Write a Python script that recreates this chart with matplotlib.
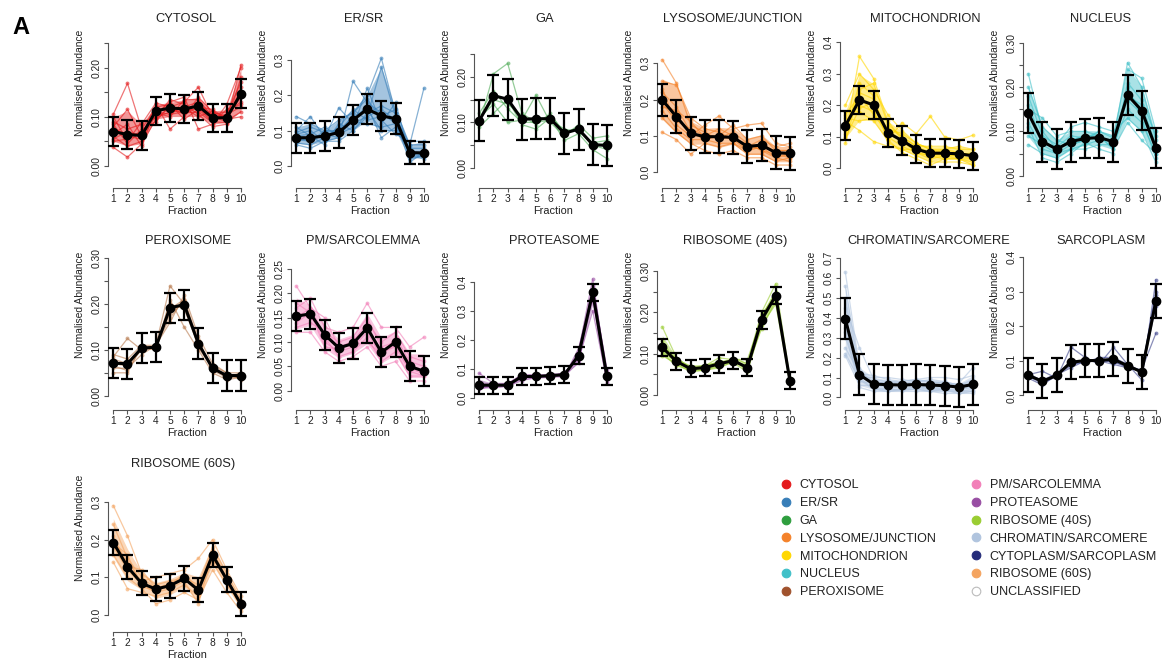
import matplotlib
matplotlib.use("Agg")
import matplotlib.pyplot as plt
from matplotlib.lines import Line2D
import numpy as np

plt.rcParams['font.family'] = ['Liberation Sans', 'DejaVu Sans']

fractions = list(range(1, 11))

# mean profile and SD per compartment, plus individual protein profiles
cytosol_mean = [0.070, 0.064, 0.062, 0.112, 0.118, 0.116, 0.122, 0.098, 0.098, 0.147]
cytosol_sd = [0.030, 0.030, 0.029, 0.029, 0.029, 0.029, 0.029, 0.029, 0.029, 0.029]
cytosol_profiles = [
    [0.105, 0.168, 0.075, 0.118, 0.110, 0.112, 0.118, 0.092, 0.105, 0.120],
    [0.038, 0.018, 0.045, 0.095, 0.120, 0.130, 0.160, 0.100, 0.090, 0.205],
    [0.080, 0.115, 0.060, 0.125, 0.075, 0.100, 0.140, 0.110, 0.100, 0.140],
    [0.060, 0.040, 0.050, 0.105, 0.130, 0.140, 0.075, 0.085, 0.125, 0.200],
    [0.090, 0.075, 0.085, 0.128, 0.120, 0.105, 0.120, 0.115, 0.095, 0.100],
    [0.050, 0.055, 0.070, 0.100, 0.135, 0.125, 0.105, 0.080, 0.085, 0.180],
    [0.070, 0.060, 0.055, 0.115, 0.115, 0.120, 0.130, 0.095, 0.100, 0.150],
    [0.075, 0.065, 0.065, 0.110, 0.105, 0.110, 0.125, 0.105, 0.110, 0.130],
    [0.065, 0.085, 0.040, 0.120, 0.125, 0.095, 0.115, 0.090, 0.088, 0.160],
    [0.100, 0.050, 0.090, 0.098, 0.110, 0.118, 0.100, 0.112, 0.092, 0.110],
    [0.055, 0.070, 0.060, 0.108, 0.100, 0.135, 0.135, 0.100, 0.105, 0.170],
    [0.085, 0.045, 0.075, 0.090, 0.125, 0.108, 0.110, 0.088, 0.115, 0.125],
]

ersr_mean = [0.080, 0.080, 0.085, 0.095, 0.130, 0.161, 0.142, 0.134, 0.038, 0.037]
ersr_sd = [0.043, 0.043, 0.043, 0.043, 0.043, 0.043, 0.043, 0.043, 0.033, 0.032]
ersr_profiles = [
    [0.140, 0.120, 0.100, 0.130, 0.150, 0.200, 0.305, 0.150, 0.030, 0.020],
    [0.060, 0.050, 0.070, 0.080, 0.240, 0.180, 0.150, 0.120, 0.040, 0.030],
    [0.100, 0.140, 0.080, 0.165, 0.120, 0.140, 0.280, 0.140, 0.060, 0.220],
    [0.070, 0.080, 0.090, 0.090, 0.110, 0.220, 0.120, 0.180, 0.030, 0.040],
    [0.080, 0.070, 0.100, 0.100, 0.140, 0.160, 0.100, 0.100, 0.050, 0.050],
    [0.090, 0.100, 0.070, 0.070, 0.100, 0.150, 0.170, 0.150, 0.020, 0.030],
    [0.065, 0.060, 0.080, 0.110, 0.160, 0.130, 0.140, 0.160, 0.060, 0.060],
    [0.085, 0.090, 0.110, 0.085, 0.130, 0.170, 0.080, 0.110, 0.040, 0.030],
    [0.110, 0.085, 0.060, 0.120, 0.100, 0.140, 0.160, 0.130, 0.010, 0.040],
    [0.075, 0.070, 0.090, 0.080, 0.150, 0.190, 0.130, 0.090, 0.070, 0.070],
    [0.095, 0.110, 0.095, 0.100, 0.125, 0.120, 0.110, 0.120, 0.035, 0.025],
]

ga_mean = [0.104, 0.159, 0.151, 0.107, 0.108, 0.108, 0.076, 0.085, 0.051, 0.049]
ga_sd = [0.045] * 10
ga_profiles = [
    [0.095, 0.207, 0.230, 0.120, 0.100, 0.115, 0.080, 0.085, 0.050, 0.040],
    [0.110, 0.140, 0.100, 0.105, 0.160, 0.100, 0.070, 0.095, 0.065, 0.070],
    [0.090, 0.120, 0.150, 0.095, 0.085, 0.110, 0.060, 0.075, 0.040, 0.020],
    [0.120, 0.170, 0.130, 0.100, 0.100, 0.105, 0.085, 0.080, 0.055, 0.060],
    [0.105, 0.150, 0.140, 0.115, 0.095, 0.120, 0.075, 0.090, 0.045, 0.055],
]

lyso_mean = [0.199, 0.153, 0.107, 0.098, 0.098, 0.096, 0.071, 0.075, 0.054, 0.052]
lyso_sd = [0.045] * 10
lyso_profiles = [
    [0.310, 0.245, 0.130, 0.110, 0.090, 0.100, 0.060, 0.070, 0.040, 0.030],
    [0.250, 0.240, 0.150, 0.120, 0.110, 0.090, 0.080, 0.060, 0.050, 0.040],
    [0.110, 0.090, 0.050, 0.080, 0.070, 0.080, 0.050, 0.050, 0.030, 0.040],
    [0.200, 0.160, 0.100, 0.130, 0.155, 0.120, 0.130, 0.135, 0.080, 0.070],
    [0.170, 0.120, 0.090, 0.090, 0.100, 0.130, 0.090, 0.100, 0.060, 0.060],
    [0.220, 0.180, 0.110, 0.090, 0.080, 0.080, 0.060, 0.070, 0.060, 0.060],
    [0.150, 0.110, 0.080, 0.060, 0.050, 0.060, 0.040, 0.040, 0.020, 0.020],
    [0.190, 0.140, 0.120, 0.100, 0.120, 0.100, 0.070, 0.090, 0.070, 0.080],
    [0.230, 0.130, 0.100, 0.105, 0.095, 0.110, 0.080, 0.060, 0.040, 0.050],
    [0.180, 0.170, 0.140, 0.095, 0.100, 0.090, 0.060, 0.080, 0.055, 0.045],
]

mito_mean = [0.135, 0.217, 0.201, 0.113, 0.088, 0.061, 0.048, 0.048, 0.046, 0.040]
mito_sd = [0.046, 0.045, 0.045, 0.045, 0.045, 0.045, 0.045, 0.045, 0.045, 0.045]
mito_profiles = [
    [0.100, 0.355, 0.285, 0.150, 0.090, 0.050, 0.040, 0.030, 0.030, 0.020],
    [0.200, 0.300, 0.250, 0.170, 0.120, 0.080, 0.060, 0.050, 0.050, 0.040],
    [0.150, 0.120, 0.085, 0.070, 0.060, 0.060, 0.050, 0.060, 0.050, 0.040],
    [0.080, 0.250, 0.270, 0.140, 0.100, 0.070, 0.050, 0.040, 0.030, 0.030],
    [0.180, 0.180, 0.150, 0.090, 0.145, 0.110, 0.165, 0.100, 0.090, 0.105],
    [0.120, 0.220, 0.200, 0.120, 0.080, 0.060, 0.040, 0.050, 0.050, 0.040],
    [0.140, 0.200, 0.180, 0.100, 0.070, 0.050, 0.030, 0.040, 0.040, 0.030],
    [0.110, 0.270, 0.230, 0.080, 0.060, 0.040, 0.020, 0.020, 0.020, 0.010],
    [0.160, 0.150, 0.160, 0.130, 0.100, 0.070, 0.070, 0.070, 0.060, 0.060],
    [0.130, 0.240, 0.220, 0.110, 0.090, 0.050, 0.040, 0.040, 0.040, 0.050],
    [0.095, 0.190, 0.210, 0.090, 0.050, 0.030, 0.010, 0.030, 0.030, 0.010],
    [0.170, 0.230, 0.170, 0.125, 0.110, 0.080, 0.060, 0.060, 0.070, 0.060],
]

nucleus_mean = [0.141, 0.077, 0.060, 0.077, 0.084, 0.086, 0.077, 0.182, 0.147, 0.062]
nucleus_sd = [0.045] * 10
nucleus_profiles = [
    [0.230, 0.100, 0.060, 0.080, 0.090, 0.090, 0.070, 0.150, 0.120, 0.050],
    [0.070, 0.050, 0.040, 0.060, 0.070, 0.080, 0.080, 0.255, 0.200, 0.080],
    [0.150, 0.130, 0.090, 0.100, 0.100, 0.090, 0.060, 0.200, 0.130, 0.040],
    [0.120, 0.060, 0.050, 0.070, 0.080, 0.100, 0.090, 0.240, 0.220, 0.100],
    [0.180, 0.090, 0.070, 0.110, 0.120, 0.110, 0.100, 0.130, 0.100, 0.030],
    [0.090, 0.070, 0.050, 0.060, 0.060, 0.070, 0.070, 0.180, 0.160, 0.070],
    [0.140, 0.080, 0.060, 0.080, 0.090, 0.080, 0.080, 0.170, 0.140, 0.060],
    [0.200, 0.110, 0.080, 0.070, 0.080, 0.090, 0.060, 0.120, 0.080, 0.050],
    [0.110, 0.040, 0.030, 0.050, 0.075, 0.060, 0.050, 0.210, 0.170, 0.090],
    [0.160, 0.075, 0.065, 0.090, 0.085, 0.100, 0.085, 0.190, 0.150, 0.065],
]

perox_mean = [0.071, 0.070, 0.104, 0.106, 0.192, 0.199, 0.114, 0.060, 0.044, 0.044]
perox_sd = [0.033] * 10
perox_profiles = [
    [0.085, 0.125, 0.100, 0.110, 0.240, 0.200, 0.120, 0.060, 0.040, 0.040],
    [0.050, 0.050, 0.110, 0.100, 0.190, 0.210, 0.110, 0.060, 0.045, 0.040],
    [0.060, 0.060, 0.090, 0.110, 0.160, 0.220, 0.130, 0.070, 0.050, 0.050],
    [0.080, 0.070, 0.105, 0.100, 0.210, 0.150, 0.100, 0.050, 0.035, 0.040],
    [0.070, 0.065, 0.100, 0.105, 0.200, 0.190, 0.110, 0.065, 0.050, 0.035],
    [0.090, 0.080, 0.110, 0.110, 0.170, 0.210, 0.120, 0.055, 0.040, 0.050],
    [0.065, 0.055, 0.105, 0.108, 0.180, 0.205, 0.105, 0.060, 0.045, 0.045],
]

pm_mean = [0.153, 0.158, 0.115, 0.088, 0.097, 0.129, 0.079, 0.100, 0.050, 0.040]
pm_sd = [0.031] * 10
pm_profiles = [
    [0.215, 0.170, 0.150, 0.090, 0.100, 0.130, 0.080, 0.090, 0.040, 0.030],
    [0.120, 0.120, 0.080, 0.060, 0.070, 0.090, 0.050, 0.060, 0.020, 0.020],
    [0.170, 0.190, 0.130, 0.120, 0.130, 0.180, 0.130, 0.130, 0.090, 0.110],
    [0.140, 0.160, 0.100, 0.080, 0.090, 0.120, 0.070, 0.110, 0.060, 0.050],
    [0.160, 0.150, 0.120, 0.100, 0.110, 0.150, 0.090, 0.100, 0.050, 0.040],
    [0.150, 0.170, 0.110, 0.070, 0.080, 0.110, 0.060, 0.080, 0.030, 0.030],
    [0.130, 0.140, 0.120, 0.090, 0.100, 0.140, 0.100, 0.120, 0.070, 0.060],
    [0.180, 0.160, 0.090, 0.085, 0.095, 0.100, 0.075, 0.095, 0.045, 0.035],
]

prot_mean = [0.044, 0.044, 0.044, 0.074, 0.074, 0.077, 0.080, 0.146, 0.363, 0.074]
prot_sd = [0.029] * 10
prot_profiles = [
    [0.085, 0.050, 0.040, 0.070, 0.080, 0.070, 0.090, 0.130, 0.300, 0.060],
    [0.040, 0.040, 0.050, 0.080, 0.070, 0.080, 0.070, 0.160, 0.410, 0.070],
    [0.030, 0.045, 0.040, 0.060, 0.070, 0.075, 0.080, 0.150, 0.380, 0.100],
    [0.050, 0.040, 0.045, 0.080, 0.080, 0.080, 0.085, 0.140, 0.340, 0.050],
    [0.045, 0.050, 0.050, 0.075, 0.065, 0.085, 0.075, 0.170, 0.360, 0.080],
    [0.035, 0.035, 0.040, 0.070, 0.075, 0.070, 0.080, 0.120, 0.390, 0.065],
    [0.045, 0.045, 0.045, 0.075, 0.072, 0.078, 0.082, 0.150, 0.350, 0.090],
]

rib40_mean = [0.115, 0.081, 0.063, 0.066, 0.075, 0.083, 0.066, 0.182, 0.241, 0.034]
rib40_sd = [0.021] * 10
rib40_profiles = [
    [0.165, 0.090, 0.060, 0.070, 0.080, 0.080, 0.070, 0.170, 0.220, 0.030],
    [0.100, 0.070, 0.060, 0.060, 0.070, 0.090, 0.075, 0.200, 0.270, 0.040],
    [0.120, 0.085, 0.070, 0.070, 0.090, 0.085, 0.060, 0.190, 0.250, 0.030],
    [0.095, 0.075, 0.055, 0.060, 0.065, 0.080, 0.070, 0.160, 0.230, 0.040],
    [0.110, 0.090, 0.065, 0.072, 0.078, 0.086, 0.085, 0.185, 0.245, 0.025],
    [0.130, 0.078, 0.062, 0.065, 0.072, 0.078, 0.055, 0.175, 0.235, 0.035],
    [0.105, 0.080, 0.068, 0.063, 0.076, 0.082, 0.065, 0.195, 0.240, 0.030],
]

chrom_mean = [0.395, 0.114, 0.067, 0.064, 0.062, 0.065, 0.062, 0.059, 0.052, 0.065]
chrom_sd = [0.103, 0.103, 0.101, 0.101, 0.101, 0.101, 0.101, 0.101, 0.101, 0.101]
chrom_profiles = [
    [0.630, 0.150, 0.050, 0.040, 0.040, 0.050, 0.040, 0.040, 0.030, 0.040],
    [0.560, 0.120, 0.060, 0.050, 0.050, 0.050, 0.050, 0.040, 0.040, 0.050],
    [0.500, 0.100, 0.040, 0.040, 0.035, 0.040, 0.035, 0.030, 0.030, 0.030],
    [0.450, 0.250, 0.090, 0.080, 0.070, 0.080, 0.080, 0.070, 0.060, 0.090],
    [0.400, 0.130, 0.080, 0.070, 0.075, 0.070, 0.070, 0.080, 0.060, 0.080],
    [0.350, 0.080, 0.070, 0.080, 0.080, 0.090, 0.080, 0.070, 0.070, 0.150],
    [0.300, 0.100, 0.100, 0.100, 0.090, 0.080, 0.090, 0.080, 0.060, 0.060],
    [0.250, 0.120, 0.110, 0.090, 0.080, 0.090, 0.100, 0.100, 0.090, 0.110],
    [0.210, 0.060, 0.060, 0.070, 0.060, 0.060, 0.050, 0.050, 0.050, 0.050],
    [0.220, 0.090, 0.040, 0.030, 0.040, 0.040, 0.030, 0.040, 0.020, 0.020],
    [0.330, 0.050, 0.030, 0.030, 0.030, 0.030, 0.030, 0.020, 0.020, 0.030],
]

sarco_mean = [0.058, 0.041, 0.058, 0.096, 0.101, 0.101, 0.105, 0.086, 0.068, 0.274]
sarco_sd = [0.049] * 10
sarco_profiles = [
    [0.060, 0.070, 0.050, 0.140, 0.110, 0.090, 0.140, 0.090, 0.045, 0.335],
    [0.050, 0.030, 0.060, 0.080, 0.100, 0.100, 0.090, 0.080, 0.075, 0.180],
    [0.065, 0.040, 0.060, 0.090, 0.095, 0.110, 0.110, 0.090, 0.070, 0.300],
    [0.055, 0.035, 0.055, 0.100, 0.100, 0.105, 0.095, 0.085, 0.065, 0.260],
    [0.058, 0.045, 0.062, 0.085, 0.105, 0.098, 0.100, 0.080, 0.072, 0.290],
]

rib60_mean = [0.192, 0.128, 0.084, 0.069, 0.078, 0.097, 0.066, 0.159, 0.094, 0.029]
rib60_sd = [0.032] * 10
rib60_profiles = [
    [0.290, 0.210, 0.110, 0.080, 0.090, 0.100, 0.060, 0.150, 0.090, 0.030],
    [0.240, 0.150, 0.100, 0.070, 0.080, 0.110, 0.070, 0.170, 0.100, 0.020],
    [0.140, 0.070, 0.060, 0.050, 0.060, 0.080, 0.050, 0.140, 0.080, 0.030],
    [0.200, 0.140, 0.090, 0.100, 0.110, 0.120, 0.150, 0.200, 0.120, 0.050],
    [0.180, 0.120, 0.080, 0.060, 0.070, 0.090, 0.030, 0.160, 0.090, 0.020],
    [0.160, 0.100, 0.070, 0.030, 0.040, 0.060, 0.040, 0.120, 0.060, 0.010],
    [0.210, 0.130, 0.120, 0.070, 0.085, 0.100, 0.080, 0.180, 0.110, 0.040],
    [0.190, 0.160, 0.075, 0.065, 0.075, 0.095, 0.065, 0.155, 0.095, 0.030],
]

legend_labels = ["CYTOSOL", "ER/SR", "GA", "LYSOSOME/JUNCTION", "MITOCHONDRION",
                 "NUCLEUS", "PEROXISOME", "PM/SARCOLEMMA", "PROTEASOME",
                 "RIBOSOME (40S)", "CHROMATIN/SARCOMERE", "CYTOPLASM/SARCOPLASM",
                 "RIBOSOME (60S)", "UNCLASSIFIED"]
legend_colors = ["#E41A1C", "#377EB8", "#2E9E3E", "#F4822A", "#FFD700",
                 "#41C0C8", "#A0522D", "#F27FB8", "#984EA3", "#9ACD32",
                 "#B0C4DE", "#252C7A", "#F4A460", "#FFFFFF"]

# title, mean, sd, profiles, colour, ylim, tick step, top tick, decimals,
# label every n ticks, title shift (px), dense band
panels = [
    ("CYTOSOL", cytosol_mean, cytosol_sd, cytosol_profiles, "#E41A1C", (-0.0447, 0.2703), 0.05, 0.25, 2, 2, 8.5, True),
    ("ER/SR", ersr_mean, ersr_sd, ersr_profiles, "#377EB8", (-0.0623, 0.3764), 0.1, 0.3, 1, 1, 4, True),
    ("GA", ga_mean, ga_sd, ga_profiles, "#4DAA55", (-0.0448, 0.2970), 0.05, 0.25, 2, 2, 2, False),
    ("LYSOSOME/JUNCTION", lyso_mean, lyso_sd, lyso_profiles, "#F4822A", (-0.0432, 0.3834), 0.1, 0.3, 1, 1, 6.5, True),
    ("MITOCHONDRION", mito_mean, mito_sd, mito_profiles, "#FFD700", (-0.0625, 0.4295), 0.1, 0.4, 1, 1, 16.5, True),
    ("NUCLEUS", nucleus_mean, nucleus_sd, nucleus_profiles, "#41C0C8", (-0.0277, 0.3219), 0.05, 0.30, 2, 2, 8.5, True),
    ("PEROXISOME", perox_mean, perox_sd, perox_profiles, "#B87A4E", (-0.0317, 0.3070), 0.05, 0.30, 2, 2, 10.5, False),
    ("PM/SARCOLEMMA", pm_mean, pm_sd, pm_profiles, "#F27FB8", (-0.0401, 0.2784), 0.05, 0.25, 2, 1, 3.3, True),
    ("PROTEASOME", prot_mean, prot_sd, prot_profiles, "#984EA3", (-0.0420, 0.4910), 0.1, 0.4, 1, 1, 11, True),
    ("RIBOSOME (40S)", rib40_mean, rib40_sd, rib40_profiles, "#9ACD32", (-0.0377, 0.3394), 0.05, 0.30, 2, 2, 8.7, True),
    ("CHROMATIN/SARCOMERE", chrom_mean, chrom_sd, chrom_profiles, "#B0C4DE", (-0.0643, 0.7146), 0.1, 0.7, 1, 1, 20, True),
    ("SARCOPLASM", sarco_mean, sarco_sd, sarco_profiles, "#3A418A", (-0.0429, 0.4064), 0.1, 0.4, 1, 1, 8.8, False),
    ("RIBOSOME (60S)", rib60_mean, rib60_sd, rib60_profiles, "#F4A460", (-0.0458, 0.3645), 0.1, 0.3, 1, 1, 6, True),
]

W, H = 1164, 659
fig = plt.figure(figsize=(W / 100, H / 100), dpi=100)


def fx(px):
    return px / W


def fy(py):
    return 1 - py / H


axis_grey = "#555555"
text_col = "#222222"
fs_small = 7.4

for k, (title, mean, sd, profiles, col, ylim, step, top, dec, every, tdx, dense) in enumerate(panels):
    row, c = divmod(k, 6)
    left = 108.2 + 183 * c
    base = 188 + 222.2 * row
    width, height = 137.8, 155
    ax = fig.add_axes([fx(left), fy(base), width / W, height / H])

    # core of the protein cloud, so dense compartments read as a band
    if dense:
        lo, hi = np.percentile(np.array(profiles), [10, 90], axis=0)
        ax.fill_between(fractions, lo, hi, color=col, alpha=0.45, lw=0, zorder=0)

    for prof in profiles:
        ax.plot(fractions, prof, color=col, alpha=0.6, lw=0.9,
                marker="o", ms=2.8, mew=0, zorder=1)

    ax.errorbar(fractions, mean, yerr=sd, color="black", lw=2.2,
                marker="o", ms=6, elinewidth=1.6, capsize=4.5,
                capthick=1.6, zorder=3)

    ax.set_xlim(0.64, 10.36)
    ax.set_ylim(*ylim)

    n = int(round(top / step))
    ticks = [i * step for i in range(n + 1)]
    labels = [f"{t:.{dec}f}" if i % every == 0 else "" for i, t in enumerate(ticks)]
    ax.set_yticks(ticks)
    ax.set_yticklabels(labels)
    ax.set_xticks(fractions)
    ax.set_xticklabels([str(f) for f in fractions])

    for s in ("top", "right"):
        ax.spines[s].set_visible(False)
    ax.spines["left"].set_bounds(0, ticks[-1])
    ax.spines["bottom"].set_bounds(1, 10)
    for s in ("left", "bottom"):
        ax.spines[s].set_color(axis_grey)
        ax.spines[s].set_linewidth(0.8)
    ax.tick_params(length=3, width=0.8, color=axis_grey, labelsize=fs_small,
                   labelcolor=text_col)
    ax.tick_params(axis="y", pad=1.5)
    ax.tick_params(axis="x", pad=1.2)
    for lab in ax.get_yticklabels():
        lab.set_rotation(90)
        lab.set_va("center")
    ax.patch.set_alpha(0)

    cx = left + width / 2
    fig.text(fx(cx + tdx), fy(base - 168.7), title, ha="center", va="center",
             fontsize=9.3, color=text_col)
    fig.text(fx(cx + 9.5), fy(base + 23), "Fraction", ha="center", va="center",
             fontsize=7.9, color=text_col)
    fig.text(fx(left - 28), fy(base - 105), "Normalised Abundance", ha="center",
             va="center", rotation=90, fontsize=fs_small, color=text_col)

fig.text(fx(20.5), fy(27), "A", ha="center", va="center", fontsize=17,
         fontweight="bold", color="black")

handles = [Line2D([], [], ls="none", marker="o", ms=6.2, mfc=c,
                  mec=("#BBBBBB" if c == "#FFFFFF" else c), mew=0.8)
           for c in legend_colors]
fig.legend(handles, legend_labels, ncol=2, loc="upper left",
           bbox_to_anchor=(fx(781), fy(479.5)), frameon=False, fontsize=9,
           handlelength=0.8, handletextpad=0.7, columnspacing=2.84,
           labelspacing=0.46, borderpad=0, borderaxespad=0,
           labelcolor=text_col)

fig.savefig("out.png", dpi=100)
